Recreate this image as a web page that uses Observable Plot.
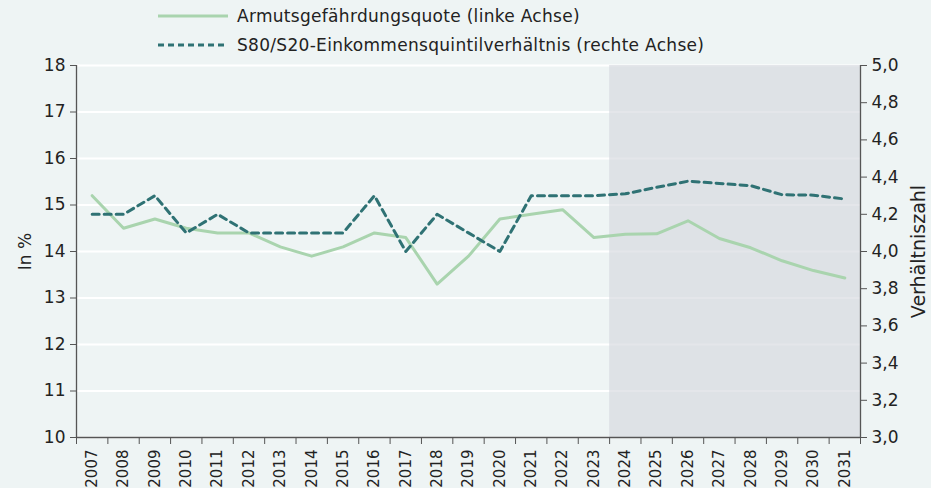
<!DOCTYPE html>
<html>
<head>
<meta charset="utf-8">
<script src="https://cdn.jsdelivr.net/npm/d3@7"></script>
<script src="https://cdn.jsdelivr.net/npm/@observablehq/plot@0.6"></script>
<style>
  html, body { margin: 0; padding: 0; background: #eef4f4; }
  body { width: 931px; height: 488px; overflow: hidden; font-family: "DejaVu Sans", sans-serif; color: #222; }
  #legend { height: 52px; position: relative; }
  .item { position: absolute; left: 158px; display: flex; align-items: center; font-size: 17px; letter-spacing: 0.3px; }
  .item svg { margin-right: 9px; }
  #chart svg { display: block; }
</style>
</head>
<body>
<div id="legend">
  <div class="item" style="top:6px"><svg width="70" height="6"><line x1="0" y1="3" x2="70" y2="3" stroke="#a9d4ae" stroke-width="3"/></svg><span>Armutsgefährdungsquote (linke Achse)</span></div>
  <div class="item" style="top:35px"><svg width="70" height="6"><line x1="0" y1="3" x2="70" y2="3" stroke="#2f7274" stroke-width="3" stroke-dasharray="6,4"/></svg><span>S80/S20-Einkommensquintilverhältnis (rechte Achse)</span></div>
</div>
<div id="chart"></div>
<script>
const years = [2007,2008,2009,2010,2011,2012,2013,2014,2015,2016,2017,2018,2019,2020,2021,2022,2023,2024,2025,2026,2027,2028,2029,2030,2031];
const povertyRate = [15.2,14.5,14.7,14.5,14.4,14.4,14.1,13.9,14.1,14.4,14.3,13.3,13.9,14.7,14.8,14.9,14.3,14.37,14.38,14.66,14.28,14.08,13.8,13.59,13.43];
const quintileRatio = [4.2,4.2,4.3,4.1,4.2,4.1,4.1,4.1,4.1,4.3,4.0,4.2,4.1,4.0,4.3,4.3,4.3,4.31,4.345,4.378,4.366,4.354,4.305,4.303,4.282];
const forecastStart = 2024;
const leftTicks = [10,11,12,13,14,15,16,17,18];
const rightTicks = [3.0,3.2,3.4,3.6,3.8,4.0,4.2,4.4,4.6,4.8,5.0];
const leftDomain = [10, 18];
const rightDomain = [3, 5];

const toLeft = v => leftDomain[0] + (v - rightDomain[0]) * (leftDomain[1]-leftDomain[0])/(rightDomain[1]-rightDomain[0]);
const fromLeft = v => rightDomain[0] + (v - leftDomain[0]) * (rightDomain[1]-rightDomain[0])/(leftDomain[1]-leftDomain[0]);
const xDomain = [years[0]-0.5, years[years.length-1]+0.5];
const boundaries = years.map(y => y - 0.5).concat([years[years.length-1]+0.5]);

const rows = years.map((y,i) => ({year: y, rate: povertyRate[i], ratio: toLeft(quintileRatio[i])}));
const axisColor = "#555";

const chart = Plot.plot({
  width: 931,
  height: 436,
  marginTop: 13,
  marginBottom: 51,
  marginLeft: 76,
  marginRight: 71,
  style: {background: "transparent", fontFamily: "'DejaVu Sans', sans-serif", fontSize: "16px", color: "#222"},
  x: {domain: xDomain},
  y: {domain: leftDomain},
  marks: [
    Plot.gridY(leftTicks, {stroke: "white", strokeOpacity: 1, strokeWidth: 2}),
    Plot.rect([forecastStart], {x1: d => d - 0.5, x2: () => xDomain[1], y1: () => leftDomain[0], y2: () => leftDomain[1], fill: "#d6d9de", fillOpacity: 0.65}),
    Plot.line(rows, {x: "year", y: "rate", stroke: "#a9d4ae", strokeWidth: 3}),
    Plot.line(rows, {x: "year", y: "ratio", stroke: "#2f7274", strokeWidth: 3, strokeDasharray: "7,5"}),
    Plot.ruleX([xDomain[0]], {stroke: axisColor, strokeWidth: 1.3}),
    Plot.ruleX([xDomain[1]], {stroke: axisColor, strokeWidth: 1.3}),
    Plot.ruleY([leftDomain[0]], {stroke: axisColor, strokeWidth: 1.3}),
    Plot.axisY(leftTicks, {anchor: "left", tickSize: 6, tickPadding: 5, stroke: axisColor, fontSize: 17, label: null, tickFormat: d => String(d)}),
    Plot.axisY([], {anchor: "left", fontSize: 17, label: "In %", labelArrow: "none", labelAnchor: "center", labelOffset: 58}),
    Plot.axisY(rightTicks.map(toLeft), {anchor: "right", tickSize: 6, tickPadding: 5, stroke: axisColor, fontSize: 17, label: null, tickFormat: d => fromLeft(d).toFixed(1).replace(".", ",")}),
    Plot.axisY([], {anchor: "right", fontSize: 19, label: "Verhältniszahl", labelArrow: "none", labelAnchor: "center", labelOffset: 64}),
    Plot.axisX(boundaries, {anchor: "bottom", tickSize: 7, stroke: axisColor, tickFormat: () => "", label: null}),
    Plot.axisX(years, {anchor: "bottom", tickSize: 0, tickPadding: 12, tickRotate: -90, fontSize: 15, tickFormat: d => String(d), label: null})
  ]
});
document.getElementById("chart").appendChild(chart);
</script>
</body>
</html>
